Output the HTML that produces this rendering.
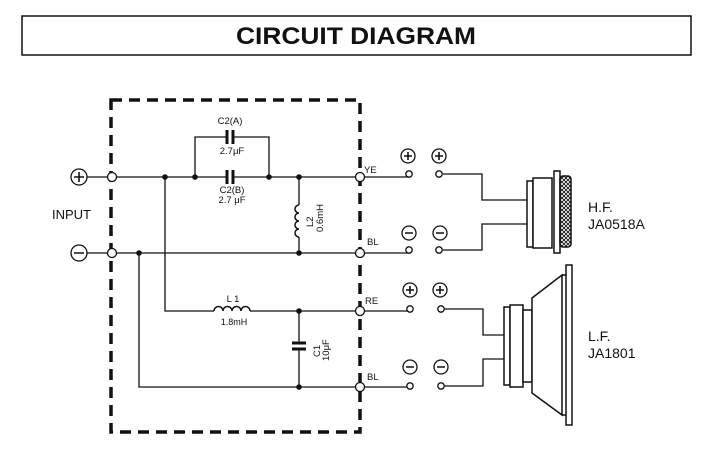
<!DOCTYPE html>
<html><head><meta charset="utf-8"><style>
html,body{margin:0;padding:0;background:#fff;}
svg{display:block;font-family:"Liberation Sans",sans-serif;}
</style></head><body>
<svg width="714" height="468" viewBox="0 0 714 468" xmlns="http://www.w3.org/2000/svg">
<defs>
<pattern id="mesh" width="4" height="4" patternUnits="userSpaceOnUse">
<path d="M0 0L4 4M4 0L0 4" stroke="#111" stroke-width="0.9"/>
</pattern>
</defs>
<rect x="22" y="16" width="669" height="39" fill="none" stroke="#111" stroke-width="1.5"/>
<text x="356" y="44" text-anchor="middle" font-size="24" font-weight="bold" textLength="240" lengthAdjust="spacingAndGlyphs" fill="#111">CIRCUIT DIAGRAM</text>

<rect x="111" y="100" width="249" height="332" fill="none" stroke="#111" stroke-width="3.5" stroke-dasharray="11,7"/>

<g stroke="#111" stroke-width="1.3" fill="none">
<line x1="87" y1="177" x2="226" y2="177"/>
<line x1="234" y1="177" x2="410" y2="177"/>
<path d="M195 177V137H226M234 137H269V177"/>
<line x1="87" y1="253" x2="410" y2="253"/>
<path d="M299 177V205"/>
<path d="M299 205a4 4 0 0 0 0 8a4 4 0 0 0 0 8a4 4 0 0 0 0 8a4 4 0 0 0 0 8" stroke-width="1.5"/>
<path d="M299 237V253"/>
<path d="M165 177V311H214"/>
<path d="M214 311a4.5 4.5 0 0 1 9 0a4.5 4.5 0 0 1 9 0a4.5 4.5 0 0 1 9 0a4.5 4.5 0 0 1 9 0" stroke-width="1.5"/>
<path d="M250 311H410"/>
<path d="M299 311V342M299 350V387"/>
<path d="M139 253V387H410"/>
<path d="M443 174H482V200H527"/>
<path d="M443 250H482V224H527"/>
<path d="M443 309H483V335H505"/>
<path d="M443 386H483V359H505"/>
</g>
<g stroke="#111" stroke-width="3">
<line x1="227" y1="130" x2="227" y2="144"/><line x1="233" y1="130" x2="233" y2="144"/>
<line x1="227" y1="170" x2="227" y2="184"/><line x1="233" y1="170" x2="233" y2="184"/>
<line x1="292" y1="343" x2="306" y2="343"/><line x1="292" y1="349" x2="306" y2="349"/>
</g>
<g fill="#111">
<circle cx="165" cy="177" r="2.8"/><circle cx="195" cy="177" r="2.8"/><circle cx="269" cy="177" r="2.8"/><circle cx="299" cy="177" r="2.8"/>
<circle cx="139" cy="253" r="2.8"/><circle cx="299" cy="253" r="2.8"/>
<circle cx="299" cy="311" r="2.8"/><circle cx="299" cy="387" r="2.8"/>
</g>
<g fill="#fff" stroke="#111" stroke-width="1.3">
<circle cx="112" cy="177" r="4.5"/><circle cx="112" cy="253" r="4.5"/>
<circle cx="360" cy="177" r="4.5"/><circle cx="360" cy="253" r="4.5"/>
<circle cx="360" cy="311" r="4.5"/><circle cx="360" cy="387" r="4.5"/>
<circle cx="409" cy="174" r="3.2"/><circle cx="439" cy="174" r="3.2"/>
<circle cx="409" cy="250" r="3.2"/><circle cx="439" cy="250" r="3.2"/>
<circle cx="410" cy="309" r="3.2"/><circle cx="441" cy="309" r="3.2"/>
<circle cx="410" cy="386" r="3.2"/><circle cx="441" cy="386" r="3.2"/>
<circle cx="79" cy="177" r="8"/><circle cx="79" cy="253" r="8"/>
<circle cx="408" cy="156" r="7"/><circle cx="439" cy="156" r="7"/>
<circle cx="409" cy="233" r="7"/><circle cx="440" cy="233" r="7"/>
<circle cx="410" cy="290" r="7"/><circle cx="440" cy="290" r="7"/>
<circle cx="410" cy="367" r="7"/><circle cx="441" cy="367" r="7"/>
</g>
<g stroke="#111" stroke-width="1.6">
<path d="M74 177h10M79 172v10M74 253h10"/>
<path d="M404 156h8M408 152v8M435 156h8M439 152v8"/>
<path d="M405 233h8M436 233h8"/>
<path d="M406 290h8M410 286v8M436 290h8M440 286v8"/>
<path d="M406 367h8M437 367h8"/>
</g>
<g stroke="#111" stroke-width="1.5" fill="#fff">
<rect x="527" y="181" width="6" height="66"/>
<rect x="533" y="178" width="19" height="70"/>
<rect x="554" y="171" width="6" height="82"/>
<rect x="560" y="176" width="11" height="71" rx="3" fill="url(#mesh)"/>
</g>
<g stroke="#111" stroke-width="1.5" fill="#fff">
<rect x="504" y="307" width="6" height="78"/>
<rect x="510" y="305" width="13" height="82"/>
<rect x="523" y="310" width="9" height="72"/>
<path d="M532 298L562 275V415L532 393Z"/>
<rect x="566" y="265" width="6" height="160"/>
<line x1="562" y1="275" x2="566" y2="275"/><line x1="562" y1="415" x2="566" y2="415"/>
</g>
<g fill="#111">
<text x="230" y="124" font-size="9.5" text-anchor="middle">C2(A)</text>
<text x="232" y="154" font-size="9.5" text-anchor="middle">2.7μF</text>
<text x="232" y="193" font-size="9.5" text-anchor="middle">C2(B)</text>
<text x="232" y="203" font-size="9.5" text-anchor="middle">2.7 μF</text>
<text font-size="9.5" transform="translate(313,227) rotate(-90)">L2</text>
<text font-size="9.5" transform="translate(323,232) rotate(-90)">0.6mH</text>
<text x="233" y="302" font-size="9.5" text-anchor="middle">L 1</text>
<text x="234" y="325" font-size="9" text-anchor="middle">1.8mH</text>
<text font-size="9.5" transform="translate(320,357) rotate(-90)">C1</text>
<text font-size="9.5" transform="translate(329,361) rotate(-90)">10μF</text>
<text x="52" y="219" font-size="13">INPUT</text>
<text x="364" y="173" font-size="9.5">YE</text>
<text x="367" y="245" font-size="9.5">BL</text>
<text x="365" y="304" font-size="9.5">RE</text>
<text x="367" y="380" font-size="9.5">BL</text>
<text x="588" y="212" font-size="14">H.F.</text>
<text x="588" y="229" font-size="14">JA0518A</text>
<text x="588" y="341" font-size="14">L.F.</text>
<text x="588" y="358" font-size="14">JA1801</text>
</g>
</svg>
</body></html>
